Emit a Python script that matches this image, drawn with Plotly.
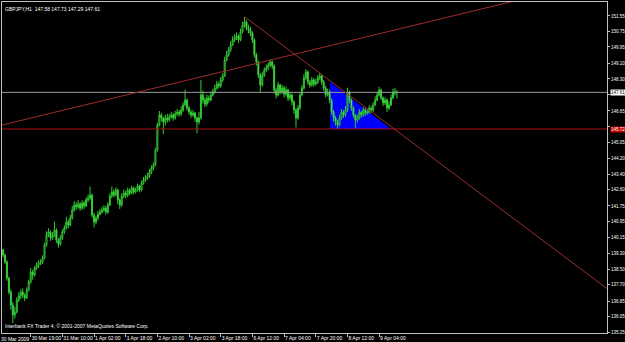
import plotly.graph_objects as go

# ---------------- data (GBPJPY H1) ----------------
bar_index = list(range(1, 202))

opens = [
139.70, 139.48, 139.22, 138.86, 138.03, 137.31, 136.64, 136.13, 136.28, 136.90,
137.11, 137.31, 137.16, 137.00, 137.42, 137.83, 138.34, 138.19, 138.55, 138.70,
138.81, 138.86, 139.07, 139.74, 140.25, 140.41, 140.10, 140.20, 140.51, 139.99,
139.79, 140.10, 140.41, 140.61, 140.92, 140.77, 141.13, 141.54, 141.80, 141.70,
141.85, 141.64, 141.90, 141.75, 142.06, 142.16, 142.31, 141.28, 140.92, 141.13,
141.33, 141.44, 141.54, 141.64, 141.44, 141.80, 142.26, 142.47, 142.31, 142.57,
142.06, 141.80, 142.26, 142.42, 142.31, 142.57, 142.42, 142.68, 142.47, 142.57,
142.78, 142.57, 142.93, 143.09, 143.19, 143.29, 143.50, 143.71, 143.86, 144.63,
145.92, 146.44, 146.29, 146.08, 146.29, 146.18, 146.34, 146.44, 146.29, 146.49,
146.59, 146.49, 146.70, 146.96, 147.21, 146.80, 146.59, 146.44, 146.54, 146.29,
146.08, 146.29, 147.47, 147.21, 147.01, 147.32, 147.21, 147.47, 147.63, 147.83,
148.04, 147.94, 148.25, 148.45, 149.28, 149.54, 149.79, 150.05, 150.31, 150.41,
150.52, 150.31, 150.72, 151.08, 151.24, 150.93, 150.83, 150.67, 150.31, 149.54,
149.18, 148.50, 147.99, 148.50, 148.76, 148.87, 149.02, 149.18, 148.97, 147.73,
147.47, 147.99, 147.63, 147.83, 147.52, 147.73, 147.32, 147.47, 147.11, 146.70,
146.29, 146.80, 147.47, 147.83, 148.35, 148.66, 148.14, 147.99, 148.25, 148.04,
148.14, 148.35, 148.45, 148.14, 147.83, 147.47, 147.63, 147.21, 146.59, 146.29,
146.08, 145.92, 146.29, 146.59, 146.44, 146.70, 147.63, 147.21, 146.80, 146.44,
146.18, 146.29, 146.59, 146.44, 146.70, 146.54, 146.59, 146.80, 146.70, 146.96,
147.21, 147.47, 147.73, 147.32, 147.06, 147.21, 146.80, 146.96, 147.32, 147.63,
147.58,
]

closes = [
139.48, 139.22, 138.86, 138.03, 137.31, 136.64, 136.13, 136.28, 136.90, 137.11,
137.31, 137.16, 137.00, 137.42, 137.83, 138.34, 138.19, 138.55, 138.70, 138.81,
138.86, 139.07, 139.74, 140.25, 140.41, 140.10, 140.20, 140.51, 139.99, 139.79,
140.10, 140.41, 140.61, 140.92, 140.77, 141.13, 141.54, 141.80, 141.70, 141.85,
141.64, 141.90, 141.75, 142.06, 142.16, 142.31, 141.28, 140.92, 141.13, 141.33,
141.44, 141.54, 141.64, 141.44, 141.80, 142.26, 142.47, 142.31, 142.57, 142.06,
141.80, 142.26, 142.42, 142.31, 142.57, 142.42, 142.68, 142.47, 142.57, 142.78,
142.57, 142.93, 143.09, 143.19, 143.29, 143.50, 143.71, 143.86, 144.63, 145.92,
146.44, 146.29, 146.08, 146.29, 146.18, 146.34, 146.44, 146.29, 146.49, 146.59,
146.49, 146.70, 146.96, 147.21, 146.80, 146.59, 146.44, 146.54, 146.29, 146.08,
146.29, 147.47, 147.21, 147.01, 147.32, 147.21, 147.47, 147.63, 147.83, 148.04,
147.94, 148.25, 148.45, 149.28, 149.54, 149.79, 150.05, 150.31, 150.41, 150.52,
150.31, 150.72, 151.08, 151.24, 150.93, 150.83, 150.67, 150.31, 149.54, 149.18,
148.50, 147.99, 148.50, 148.76, 148.87, 149.02, 149.18, 148.97, 147.73, 147.47,
147.99, 147.63, 147.83, 147.52, 147.73, 147.32, 147.47, 147.11, 146.70, 146.29,
146.80, 147.47, 147.83, 148.35, 148.66, 148.14, 147.99, 148.25, 148.04, 148.14,
148.35, 148.45, 148.14, 147.83, 147.47, 147.63, 147.21, 146.59, 146.29, 146.08,
145.92, 146.29, 146.59, 146.44, 146.70, 147.63, 147.21, 146.80, 146.44, 146.18,
146.29, 146.59, 146.44, 146.70, 146.54, 146.59, 146.80, 146.70, 146.96, 147.21,
147.47, 147.73, 147.32, 147.06, 147.21, 146.80, 146.96, 147.32, 147.63, 147.58,
147.61,
]

highs = [
139.80, 139.55, 139.30, 138.95, 138.10, 137.45, 136.80, 136.55, 137.05, 137.30,
137.45, 137.50, 137.25, 137.55, 137.95, 138.55, 138.45, 138.65, 138.85, 138.95,
139.00, 139.20, 139.85, 140.45, 140.60, 140.50, 140.40, 140.95, 140.60, 140.10,
140.25, 140.55, 140.75, 141.20, 141.05, 141.30, 141.75, 142.00, 141.95, 142.05,
141.95, 142.05, 142.00, 142.20, 142.35, 142.75, 142.40, 141.40, 141.25, 141.50,
141.60, 141.70, 141.80, 141.75, 141.95, 142.40, 142.75, 142.60, 142.70, 142.65,
142.15, 142.40, 142.60, 142.55, 142.70, 142.65, 142.80, 142.75, 142.70, 142.90,
142.85, 143.05, 143.25, 143.35, 143.45, 143.65, 143.85, 144.00, 144.75, 146.05,
146.65, 146.55, 146.35, 146.45, 146.50, 146.50, 146.60, 146.55, 146.65, 146.75,
146.70, 146.90, 147.10, 147.75, 147.30, 146.90, 146.70, 146.70, 146.60, 146.35,
146.60, 148.25, 147.70, 147.35, 147.50, 147.45, 147.65, 147.80, 148.00, 148.20,
148.15, 148.40, 148.60, 149.45, 149.75, 149.95, 150.25, 150.50, 150.60, 150.70,
150.60, 150.90, 151.25, 151.50, 151.35, 151.10, 151.00, 150.75, 150.40, 149.65,
149.25, 148.60, 148.65, 148.90, 149.05, 149.15, 149.30, 149.25, 149.05, 147.85,
148.15, 148.05, 148.00, 147.95, 147.90, 147.80, 147.65, 147.55, 147.20, 146.80,
146.95, 147.60, 148.00, 148.55, 148.80, 148.75, 148.25, 148.40, 148.35, 148.30,
148.50, 148.62, 148.55, 148.25, 147.95, 147.80, 147.75, 147.30, 146.70, 146.40,
146.20, 146.45, 146.75, 146.70, 146.90, 147.85, 147.70, 147.30, 146.90, 146.50,
146.45, 146.75, 146.65, 146.85, 146.80, 146.75, 146.95, 146.90, 147.10, 147.40,
147.65, 147.90, 147.80, 147.40, 147.35, 147.30, 147.15, 147.50, 147.80, 147.85,
147.73,
]

lows = [
139.40, 139.10, 138.75, 137.90, 137.20, 136.40, 135.71, 135.95, 136.20, 136.80,
136.95, 137.00, 136.85, 136.95, 137.35, 137.75, 137.95, 138.10, 138.45, 138.55,
138.70, 138.75, 139.00, 139.65, 140.15, 139.95, 140.00, 140.15, 139.85, 139.60,
139.70, 140.00, 140.30, 140.55, 140.60, 140.70, 141.05, 141.45, 141.55, 141.60,
141.50, 141.55, 141.60, 141.70, 141.95, 142.05, 141.15, 140.65, 140.80, 141.00,
141.25, 141.35, 141.45, 141.30, 141.35, 141.75, 142.15, 142.20, 142.25, 141.85,
141.60, 141.70, 142.15, 142.15, 142.20, 142.30, 142.35, 142.35, 142.40, 142.50,
142.45, 142.50, 142.85, 143.00, 143.10, 143.20, 143.40, 143.60, 143.80, 144.55,
145.85, 146.10, 145.45, 145.90, 146.05, 146.10, 146.25, 146.15, 146.20, 146.40,
146.35, 146.40, 146.60, 146.90, 146.65, 146.45, 146.30, 146.35, 146.10, 145.50,
145.95, 146.20, 147.05, 146.85, 146.90, 147.05, 147.15, 147.40, 147.55, 147.75,
147.80, 147.85, 148.15, 148.40, 149.20, 149.45, 149.70, 150.00, 150.20, 150.30,
150.15, 150.25, 150.65, 150.95, 150.80, 150.65, 150.50, 150.15, 149.40, 149.00,
148.35, 147.63, 147.90, 148.40, 148.65, 148.75, 148.90, 148.80, 147.55, 147.30,
147.40, 147.50, 147.55, 147.35, 147.40, 147.15, 147.20, 146.95, 146.50, 145.80,
146.20, 146.70, 147.40, 147.75, 148.25, 148.00, 147.85, 147.90, 147.90, 147.95,
148.05, 148.25, 148.00, 147.70, 147.35, 147.40, 147.05, 146.45, 146.10, 145.90,
145.72, 145.85, 146.20, 146.30, 146.35, 146.60, 147.05, 146.65, 146.30, 145.78,
146.05, 146.20, 146.30, 146.35, 146.40, 146.45, 146.50, 146.55, 146.60, 146.90,
147.15, 147.40, 147.20, 146.90, 146.95, 146.60, 146.70, 146.90, 147.25, 147.45,
147.29,
]

# time-axis labels (bar index -> label)
time_tick_index = [16, 32, 48, 64, 80, 96, 112, 128, 144, 160, 176, 192]
time_tick_text = ["30 Mar 19:00", "31 Mar 10:00", "1 Apr 02:00", "1 Apr 18:00",
                  "2 Apr 10:00", "3 Apr 02:00", "3 Apr 18:00", "6 Apr 12:00",
                  "7 Apr 04:00", "7 Apr 20:00", "8 Apr 12:00", "9 Apr 04:00"]
first_time_label = "30 Mar 2009"

# price-axis labels (147.50 and 145.85 sit under the price boxes)
price_ticks = [135.25, 136.05, 136.85, 137.70, 138.50, 139.30, 140.15, 140.95,
               141.75, 142.60, 143.40, 144.20, 145.05, 145.85, 146.65, 147.50,
               148.30, 149.10, 149.95, 150.75, 151.55]
price_tick_text = ["135.25", "136.05", "136.85", "137.70", "138.50", "139.30",
                   "140.15", "140.95", "141.75", "142.60", "143.40", "144.20",
                   "145.05", "", "146.65", "", "148.30", "149.10", "149.95",
                   "150.75", "151.55"]

bid_price = 147.61
hline_price = 145.72
title_text = "GBPJPY,H1  147.58 147.73 147.29 147.61"
footer_text = "Interbank FX Trader 4, \u00a9 2001-2007 MetaQuotes Software Corp."

# drawn objects (anchor points: bar index, price)
up_trend_x = [0.5, 270.0]
up_trend_y = [145.90, 152.56]
down_trend_x = [124.2, 313.6]
down_trend_y = [151.50, 136.99]
triangle_x = [167.2, 167.2, 198.0]
triangle_y = [148.14, 145.72, 145.72]

FONT = "Liberation Sans, Arial, sans-serif"
FS = 5
FS_Y = 4.5

fig = go.Figure()
fig.add_trace(go.Candlestick(
    x=bar_index, open=opens, high=highs, low=lows, close=closes,
    increasing=dict(line=dict(color="#33cc33", width=1), fillcolor="#000000"),
    decreasing=dict(line=dict(color="#33cc33", width=1), fillcolor="#c8ffc8"),
    whiskerwidth=0, hoverinfo="skip", showlegend=False,
))

shapes = [
    dict(type="path", xref="x", yref="y", layer="below",
         path="M %s,%s L %s,%s L %s,%s Z" % (triangle_x[0], triangle_y[0],
                                             triangle_x[1], triangle_y[1],
                                             triangle_x[2], triangle_y[2]),
         fillcolor="#0000ff", line=dict(width=0)),
    dict(type="line", xref="paper", yref="y", x0=0, x1=1, y0=bid_price, y1=bid_price,
         line=dict(color="#9a9a9a", width=1)),
    dict(type="line", xref="paper", yref="y", x0=0, x1=1, y0=hline_price, y1=hline_price,
         line=dict(color="#b01010", width=1)),
    dict(type="line", xref="x", yref="y", x0=up_trend_x[0], x1=up_trend_x[1],
         y0=up_trend_y[0], y1=up_trend_y[1], line=dict(color="#a02a2a", width=1)),
    dict(type="line", xref="x", yref="y", x0=down_trend_x[0], x1=down_trend_x[1],
         y0=down_trend_y[0], y1=down_trend_y[1], line=dict(color="#a02a2a", width=1)),
]

annotations = [
    dict(text=title_text, xref="paper", yref="paper", x=0, y=1, xanchor="left",
         yanchor="top", xshift=1, yshift=-2, showarrow=False,
         font=dict(family=FONT, size=FS, color="#ffffff")),
    dict(text=footer_text, xref="paper", yref="paper", x=0, y=0, xanchor="left",
         yanchor="bottom", xshift=1, yshift=2, showarrow=False,
         font=dict(family=FONT, size=FS, color="#ffffff")),
    dict(text=first_time_label, xref="paper", yref="paper", x=0, y=0, xanchor="left",
         yanchor="top", xshift=-3, yshift=-1, showarrow=False,
         font=dict(family=FONT, size=FS, color="#ffffff")),
    dict(text="%.2f" % bid_price, xref="paper", yref="y", x=1, y=bid_price,
         xanchor="left", yanchor="middle", xshift=3, showarrow=False,
         bgcolor="#ffffff", borderpad=0, font=dict(family=FONT, size=FS_Y, color="#000000")),
    dict(text="%.2f" % hline_price, xref="paper", yref="y", x=1, y=hline_price,
         xanchor="left", yanchor="middle", xshift=3, showarrow=False,
         bgcolor="#c00000", borderpad=0, font=dict(family=FONT, size=FS_Y, color="#ffffff")),
]

fig.update_layout(
    width=625, height=342,
    margin=dict(l=2, r=18, t=2, b=9, pad=0),
    paper_bgcolor="#000000", plot_bgcolor="#000000",
    shapes=shapes, annotations=annotations,
    showlegend=False,
    xaxis=dict(range=[1.52, 307.1], rangeslider=dict(visible=False),
               showgrid=False, zeroline=False, automargin=False,
               showline=True, linecolor="#c0c0c0", linewidth=1, mirror=True,
               tickmode="array", tickvals=time_tick_index, ticktext=time_tick_text,
               ticks="outside", ticklen=3, tickcolor="#c0c0c0", tickangle=0,
               ticklabelposition="outside right",
               tickfont=dict(family=FONT, size=FS, color="#ffffff")),
    yaxis=dict(range=[135.20, 152.27], side="right",
               showgrid=False, zeroline=False, automargin=False,
               showline=True, linecolor="#c0c0c0", linewidth=1, mirror=True,
               tickmode="array", tickvals=price_ticks, ticktext=price_tick_text,
               ticks="outside", ticklen=2, tickcolor="#c0c0c0",
               tickfont=dict(family=FONT, size=FS_Y, color="#ffffff")),
)

fig.write_html("out.html")
